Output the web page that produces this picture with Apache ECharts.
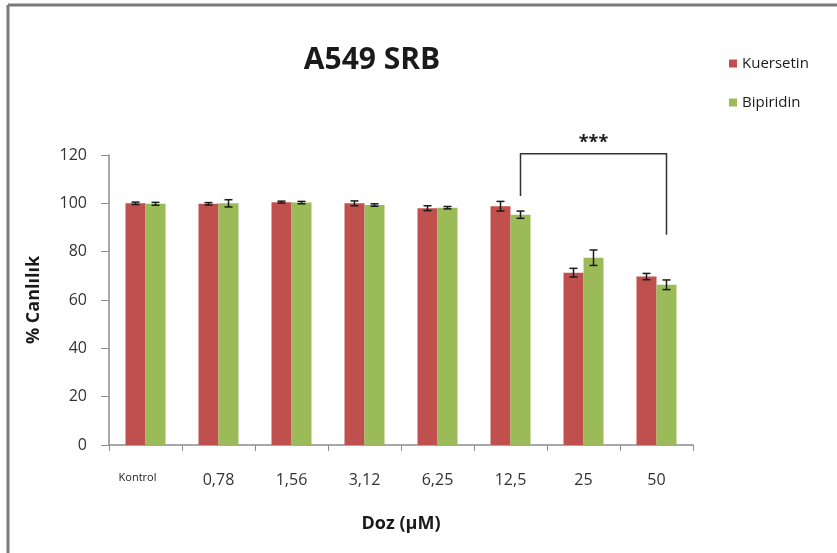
<!DOCTYPE html>
<html>
<head>
<meta charset="utf-8">
<script src="https://cdn.jsdelivr.net/npm/echarts@6/dist/echarts.min.js"></script>
<style>html,body{margin:0;padding:0;background:#fff}#c{width:837px;height:553px}</style>
</head>
<body>
<div id="c"></div>
<script>
const categories = ['Kontrol', '0,78', '1,56', '3,12', '6,25', '12,5', '25', '50'];
const kuersetin = [100, 99.8, 100.5, 100, 98, 98.8, 71.3, 69.7];
const kuersetinErr = [0.5, 0.5, 0.4, 1.0, 1.0, 2.0, 1.8, 1.3];
const bipiridin = [99.8, 100, 100.3, 99.3, 98.2, 95.3, 77.5, 66.3];
const bipiridinErr = [0.6, 1.5, 0.5, 0.5, 0.5, 1.5, 3.2, 2.0];
const yTicks = [0, 20, 40, 60, 80, 100, 120];
const bracketFrom = 5, bracketTo = 7, bracketTop = 120.5, bracketEnds = [103, 87], bracketLabel = '***';

const RED = '#c0504d', GREEN = '#9bbb59';
const BAR_W = 20;
const FONT = '"Open Sans", "Noto Sans", sans-serif';

const chart = echarts.init(document.getElementById('c'));

function errRender(offset) {
  return function (params, api) {
    const x = api.value(0), v = api.value(1), e = api.value(2);
    const top = api.coord([x, v + e]);
    const bot = api.coord([x, v - e]);
    const cx = top[0] + offset;
    const cap = 4;
    const style = { stroke: '#1a1a1a', lineWidth: 1.5 };
    return {
      type: 'group',
      children: [
        { type: 'line', shape: { x1: cx, y1: top[1], x2: cx, y2: bot[1] }, style },
        { type: 'line', shape: { x1: cx - cap, y1: top[1], x2: cx + cap, y2: top[1] }, style },
        { type: 'line', shape: { x1: cx - cap, y1: bot[1], x2: cx + cap, y2: bot[1] }, style }
      ]
    };
  };
}

const kErrData = kuersetin.map((v, i) => [i, v, kuersetinErr[i]]);
const bErrData = bipiridin.map((v, i) => [i, v, bipiridinErr[i]]);

chart.setOption({
  animation: false,
  backgroundColor: '#fff',
  title: {
    text: 'A549 SRB',
    left: 367, top: 40, textAlign: 'center',
    textStyle: { fontFamily: FONT, fontSize: 30, fontWeight: 'bold', color: '#1a1a1a' }
  },
  legend: {
    orient: 'vertical',
    left: 724, top: 51,
    itemWidth: 8, itemHeight: 8, itemGap: 24,
    icon: 'rect',
    data: ['Kuersetin', 'Bipiridin'],
    textStyle: { fontFamily: FONT, fontSize: 15, color: '#1a1a1a' }
  },
  grid: { left: 109, right: 144, top: 155, bottom: 108 },
  xAxis: {
    type: 'category',
    data: categories,
    name: 'Doz (µM)',
    nameLocation: 'middle',
    nameGap: 70,
    nameTextStyle: { fontFamily: FONT, fontSize: 18, fontWeight: 'bold', color: '#1a1a1a' },
    axisLine: { lineStyle: { color: '#8c8c8c', width: 1.5 } },
    axisTick: { show: true, length: 6, inside: false, interval: 0, lineStyle: { color: '#8c8c8c' } },
    axisLabel: {
      interval: 0,
      margin: 27,
      fontFamily: FONT, fontSize: 16, color: '#333',
      formatter: function (v, i) { return i === 0 ? '{k|' + v + '}' : v; },
      rich: { k: { fontFamily: FONT, fontSize: 11, color: '#1a1a1a', padding: [0, 16, 0, 0] } }
    }
  },
  yAxis: {
    type: 'value',
    min: 0, max: 120, interval: 20,
    name: '% Canlılık',
    nameLocation: 'middle',
    nameGap: 66,
    nameTextStyle: { fontFamily: FONT, fontSize: 18, fontWeight: 'bold', color: '#1a1a1a' },
    axisLine: { show: true, lineStyle: { color: '#8c8c8c', width: 1.5 } },
    axisTick: { show: true, length: 8, lineStyle: { color: '#8c8c8c' } },
    splitLine: { show: false },
    axisLabel: {
      margin: 22,
      fontFamily: FONT, fontSize: 16, color: '#333',
      formatter: function (v) { return yTicks.indexOf(v) >= 0 ? String(v) : ''; }
    }
  },
  series: [
    { name: 'Kuersetin', type: 'bar', data: kuersetin, barWidth: BAR_W, barGap: '0%', itemStyle: { color: RED } },
    { name: 'Bipiridin', type: 'bar', data: bipiridin, barWidth: BAR_W, barGap: '0%', itemStyle: { color: GREEN } },
    { type: 'custom', data: kErrData, renderItem: errRender(-BAR_W / 2), encode: { x: 0, y: 1 }, z: 5, silent: true, clip: false },
    { type: 'custom', data: bErrData, renderItem: errRender(BAR_W / 2), encode: { x: 0, y: 1 }, z: 5, silent: true, clip: false },
    {
      type: 'custom', silent: true, clip: false, z: 6,
      data: [[bracketFrom, bracketTo, bracketTop, bracketEnds[0], bracketEnds[1]]],
      encode: { x: [0, 1], y: [2, 3, 4] },
      renderItem: function (params, api) {
        const a = api.coord([api.value(0), api.value(2)]);
        const b = api.coord([api.value(1), api.value(2)]);
        const aEnd = api.coord([api.value(0), api.value(3)]);
        const bEnd = api.coord([api.value(1), api.value(4)]);
        const ax = a[0] + BAR_W / 2, bx = b[0] + BAR_W / 2;
        return {
          type: 'group',
          children: [
            { type: 'polyline', shape: { points: [[ax, aEnd[1]], [ax, a[1]], [bx, b[1]], [bx, bEnd[1]]] },
              style: { stroke: '#333', lineWidth: 1.5, fill: null } },
            { type: 'text', x: (ax + bx) / 2, y: a[1] - 2,
              style: { text: bracketLabel, fontFamily: FONT, fontSize: 18, fontWeight: 'bold', fill: '#1a1a1a',
                       align: 'center', verticalAlign: 'bottom' } }
          ]
        };
      }
    }
  ],
  graphic: [
    { type: 'line', shape: { x1: 8, y1: 5, x2: 837, y2: 5 }, style: { stroke: '#7a7a7a', lineWidth: 3 } },
    { type: 'line', shape: { x1: 8, y1: 5, x2: 8, y2: 553 }, style: { stroke: '#7a7a7a', lineWidth: 3 } }
  ]
});
</script>
</body>
</html>
